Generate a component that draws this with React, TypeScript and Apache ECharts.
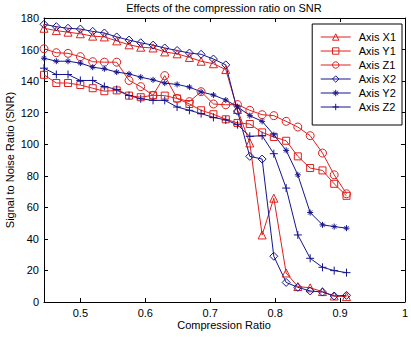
import React, { useEffect, useRef } from "react";
import * as echarts from "echarts";

const xValues = [0.444, 0.463, 0.481, 0.5, 0.519, 0.537, 0.556, 0.575, 0.593, 0.612, 0.63, 0.649, 0.668, 0.686, 0.705, 0.724, 0.742, 0.761, 0.78, 0.798, 0.817, 0.835, 0.854, 0.873, 0.891, 0.91];

const axisX1 = [173.5, 172, 171, 170, 168.5, 168, 165.5, 163, 161.5, 161, 158.5, 157.3, 155, 152.6, 151, 147.3, 122, 100.8, 42.5, 65.8, 18.4, 9.8, 9, 6.6, 3.8, 3.4];
const axisY1 = [144, 138.8, 138.8, 137.5, 135.5, 133.6, 134.1, 130.8, 129.8, 131, 130.8, 129, 125.5, 121.5, 119, 115.8, 113.5, 112.8, 107.5, 104.6, 102.2, 92.3, 84.9, 83.4, 74.9, 67.3];
const axisZ1 = [160.5, 158, 157.6, 155.5, 152.3, 152, 152, 140.4, 136.5, 131, 143.5, 129, 127, 133.3, 125.5, 125, 125.1, 121.5, 118.7, 118.1, 114.5, 110.9, 105.4, 94.4, 80.6, 68.6];
const axisX2 = [176, 174.5, 173.5, 173, 171.5, 170.5, 168, 166, 164.3, 162.8, 161, 159.4, 157.8, 157, 154, 150.3, 121, 92.3, 90.6, 29, 12.4, 9.3, 7, 6.3, 3.8, 4.2];
const axisY2 = [154.5, 152.6, 152.6, 151.4, 148.8, 147.8, 145.7, 144.6, 142.5, 140.8, 138.7, 137.9, 136.2, 133.2, 131.2, 128, 123.8, 118.1, 114.5, 106, 96.1, 80.6, 56.7, 48.9, 47.8, 46.8];
const axisZ2 = [148.2, 144.2, 144.2, 140.4, 140.4, 136.6, 134.7, 130.9, 128.8, 127.8, 127.8, 123.6, 121.5, 119.4, 117, 115.4, 112.4, 105, 105.4, 94, 72.2, 42.5, 27.7, 22, 19.9, 18.6];

const xTicks = [0.5, 0.6, 0.7, 0.8, 0.9, 1];
const seriesNames = ["Axis X1", "Axis Y1", "Axis Z1", "Axis X2", "Axis Y2", "Axis Z2"];

const RED = "#e0201c";
const BLUE = "#14148f";
const FONT = '"Liberation Sans", Arial, sans-serif';

const STAR = "path://M5,0L5,10M0,5L10,5M1.6,1.6L8.4,8.4M8.4,1.6L1.6,8.4";
const PLUS = "path://M5,0L5,10M0,5L10,5";
const CLEAR = "rgba(255,255,255,0)";

export default function App() {
  const ref = useRef<HTMLDivElement>(null);
  useEffect(() => {
    if (!ref.current) return;
    const chart = echarts.init(ref.current, undefined, { renderer: "svg" });
    const defs = [
      { name: seriesNames[0], data: axisX1, color: RED, symbol: "triangle", size: 8 },
      { name: seriesNames[1], data: axisY1, color: RED, symbol: "rect", size: 7 },
      { name: seriesNames[2], data: axisZ1, color: RED, symbol: "circle", size: 8 },
      { name: seriesNames[3], data: axisX2, color: BLUE, symbol: "diamond", size: 8 },
      { name: seriesNames[4], data: axisY2, color: BLUE, symbol: STAR, size: 6 },
      { name: seriesNames[5], data: axisZ2, color: BLUE, symbol: PLUS, size: 8 },
    ];
    const tickLine = { show: true, inside: true, length: 4, lineStyle: { color: "#000", width: 1 } };
    const axisLine = { show: true, onZero: false, lineStyle: { color: "#000", width: 1 } };
    const label = { color: "#000", fontSize: 11, fontFamily: FONT };
    chart.setOption({
      animation: false,
      backgroundColor: "#fff",
      grid: { left: 44, right: 6, top: 18, bottom: 35, containLabel: false },
      xAxis: [
        {
          type: "value", min: 0.444, max: 1, position: "bottom",
          axisLine, splitLine: { show: false },
          axisTick: { ...tickLine, customValues: xTicks },
          axisLabel: { ...label, margin: 5, customValues: xTicks, formatter: (v: number) => String(Number(v.toFixed(1))) },
        },
        {
          type: "value", min: 0.444, max: 1, position: "top",
          axisLine, splitLine: { show: false },
          axisTick: { ...tickLine, customValues: xTicks },
          axisLabel: { show: false },
        },
      ],
      yAxis: [
        {
          type: "value", min: 0, max: 180, interval: 20, position: "left",
          axisLine, splitLine: { show: false }, axisTick: tickLine,
          axisLabel: { ...label, margin: 5 },
        },
        {
          type: "value", min: 0, max: 180, interval: 20, position: "right",
          axisLine, splitLine: { show: false }, axisTick: tickLine,
          axisLabel: { show: false },
        },
      ],
      legend: {
        orient: "vertical", right: 9, top: 24,
        itemWidth: 30, itemHeight: 8, itemGap: 2,
        padding: [7, 6, 12, 8],
        borderColor: "#000", borderWidth: 1, backgroundColor: "#fff",
        textStyle: { color: "#000", fontSize: 11, fontFamily: FONT, lineHeight: 12, padding: [0, 0, 0, 3] },
        itemStyle: { color: CLEAR, borderWidth: 1 },
        data: defs.map((d) => ({
          name: d.name,
          itemStyle: { color: CLEAR, borderColor: d.color, borderWidth: 1 },
          lineStyle: { color: d.color, width: 1 },
        })),
      },
      graphic: [
        { type: "text", x: 224, y: 8, style: { text: "Effects of the compression ratio on SNR", fontSize: 11, fontFamily: FONT, fill: "#000", textAlign: "center", textVerticalAlign: "middle" } },
        { type: "text", x: 224, y: 325, style: { text: "Compression Ratio", fontSize: 11, fontFamily: FONT, fill: "#000", textAlign: "center", textVerticalAlign: "middle" } },
        { type: "text", x: 10, y: 160, rotation: Math.PI / 2, style: { text: "Signal to Noise Ratio (SNR)", fontSize: 11, fontFamily: FONT, fill: "#000", textAlign: "center", textVerticalAlign: "middle" } },
      ],
      series: defs.map((d) => ({
        name: d.name,
        type: "line",
        xAxisIndex: 0,
        yAxisIndex: 0,
        data: xValues.map((x, i) => [x, d.data[i]]),
        symbol: d.symbol,
        symbolSize: d.size,
        showAllSymbol: true,
        lineStyle: { color: d.color, width: 1 },
        itemStyle: { color: CLEAR, borderColor: d.color, borderWidth: 1 },
        emphasis: { disabled: true },
      })),
    });
    return () => chart.dispose();
  }, []);
  return <div ref={ref} style={{ position: "fixed", left: 0, top: 0, width: 411, height: 337 }} />;
}
